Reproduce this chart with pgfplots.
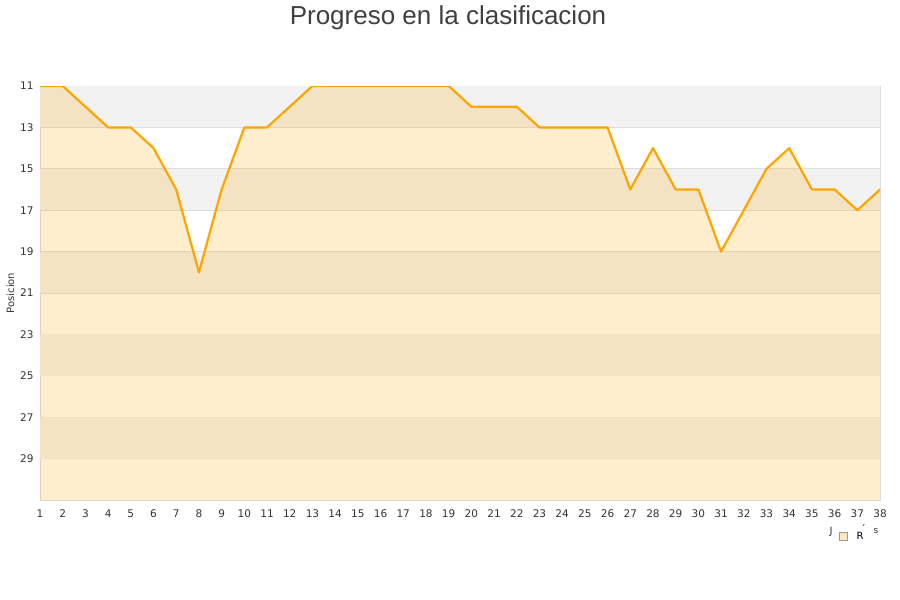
\documentclass[border=0pt]{standalone}
\usepackage{pgfplots}
\pgfplotsset{compat=1.18}
\usepackage{fontspec}
\setmainfont{DejaVu Sans}
\newfontfamily\titlefont{Liberation Sans}
\definecolor{bandgray}{HTML}{F2F2F2}
\definecolor{gridgray}{HTML}{DDDDDD}
\definecolor{linecol}{HTML}{FFA500}
\definecolor{fillcol}{RGB}{252,180,40}
\definecolor{txt}{HTML}{333333}

\pgfplotstableread{
x y
1 11
2 11
3 12
4 13
5 13
6 14
7 16
8 20
9 16
10 13
11 13
12 12
13 11
14 11
15 11
16 11
17 11
18 11
19 11
20 12
21 12
22 12
23 13
24 13
25 13
26 13
27 16
28 14
29 16
30 16
31 19
32 17
33 15
34 14
35 16
36 16
37 17
38 16
}\progreso

\begin{document}
\begin{tikzpicture}[x=1pt,y=1pt]
\useasboundingbox (0,0) rectangle (900,600);
\node[font=\titlefont\fontsize{26}{30}\selectfont, text=black!75] at (448,582) {Progreso en la clasificacion};
\begin{axis}[
  at={(40pt,100pt)}, anchor=south west,
  scale only axis, width=840pt, height=414pt,
  xmin=1, xmax=38, ymin=11, ymax=31,
  y dir=reverse,
  xtick={1,...,38}, ytick={11,13,...,29},
  major tick length=0pt,
  tick label style={font=\fontsize{10.5}{12}\selectfont, text=txt},
  xticklabel style={yshift=-6pt},
  yticklabel style={xshift=-3pt},
  /pgf/number format/assume math mode=true,
  ylabel={Posicion},
  ylabel style={font=\fontsize{10}{12}\selectfont, text=txt, yshift=-1pt},
  axis line style={draw=gridgray},
  ymajorgrids, grid style={draw=gridgray, line width=0.8pt},
  clip=true,
]
\foreach \a in {11,15,19,23,27} {
  \edef\tmp{\noexpand\fill[bandgray] (axis cs:1,\a) rectangle (axis cs:38,\the\numexpr\a+2\relax);}
  \tmp
}
\addplot[draw=none, fill=fillcol, fill opacity=0.23] table[x=x,y=y] {\progreso} -- (axis cs:38,31) -- (axis cs:1,31) -- cycle;
\addplot[draw=linecol, line width=2.2pt, line join=round] table[x=x,y=y] {\progreso};
\end{axis}
\node[font=\fontsize{10}{12}\selectfont, text=txt] at (831,68) {J};
\filldraw[draw=black!40, fill=fillcol!30, line width=0.5pt] (839.5,60) rectangle (847.5,68);
\node[font=\fontsize{10}{12}\selectfont, text=black] at (860,64) {R};
\node[font=\fontsize{8}{10}\selectfont, text=black] at (864,72) {'};
\node[font=\fontsize{9}{11}\selectfont, text=txt] at (876,69) {s};
\end{tikzpicture}
\end{document}
